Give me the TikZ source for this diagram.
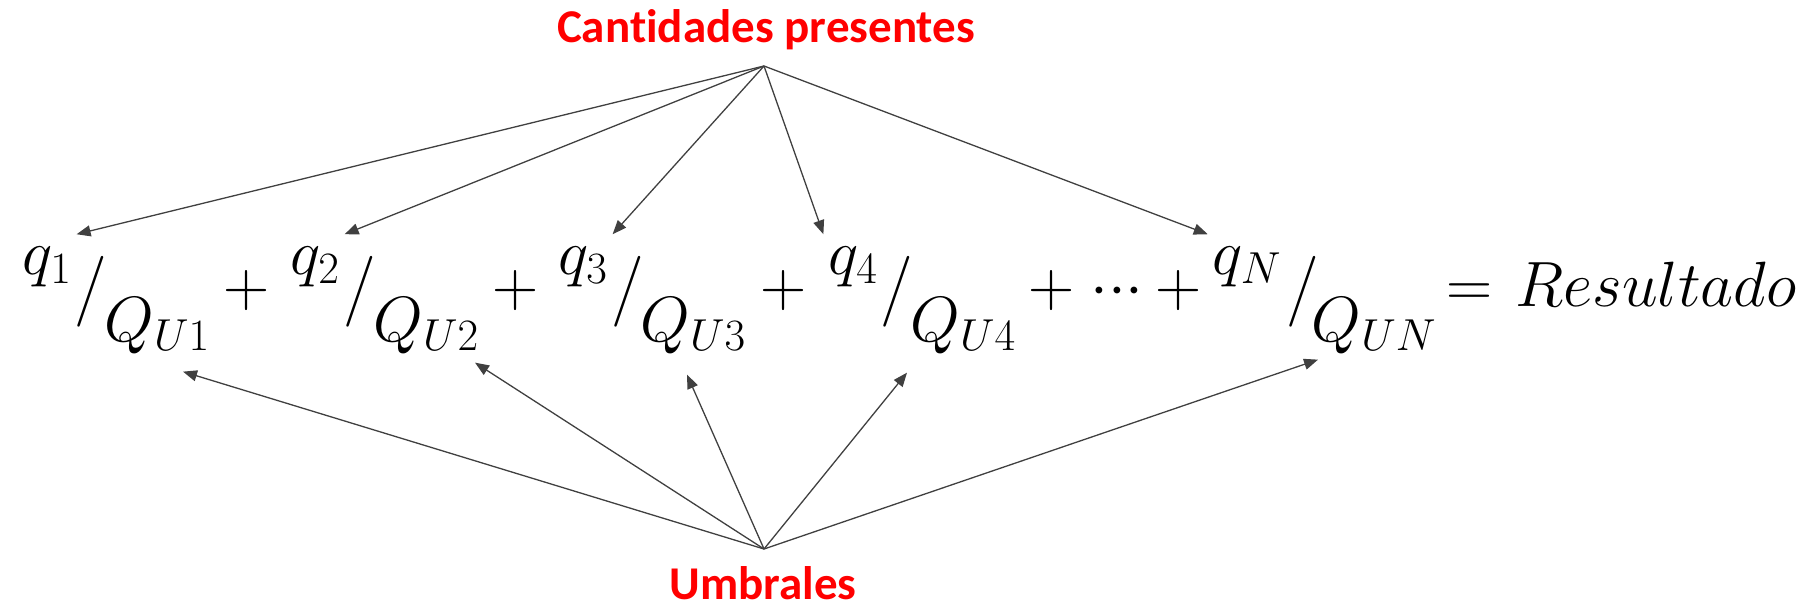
\documentclass[tikz,border=0pt]{standalone}
\usepackage{fix-cm}
\usepackage{fontspec}
\usetikzlibrary{arrows.meta}
\newfontfamily\labelfont[Ligatures=NoCommon]{Carlito}
\definecolor{ink}{HTML}{404040}
\definecolor{alert}{HTML}{FF0000}

\begin{document}
\begin{tikzpicture}[
  x=1pt,y=-1pt,
  heading/.style={font=\labelfont\bfseries\fontsize{47}{52}\selectfont,
                  text=alert,anchor=base,inner sep=0pt},
  numer/.style={font=\fontsize{64}{70}\selectfont,anchor=base,
                inner xsep=5pt,inner ysep=12pt},
  denom/.style={font=\fontsize{64}{70}\selectfont,anchor=base,inner sep=0pt},
  op/.style={font=\fontsize{64}{70}\selectfont,inner sep=0pt,anchor=base},
  slash/.style={font=\fontsize{71}{76}\selectfont,inner sep=0pt},
  link/.style={-{Triangle[length=14pt,width=11pt]},draw=ink,line width=1.3pt}
]
\useasboundingbox (0,0) rectangle (1819,610);

% Red headings with the two hubs.
\node[heading] (cant) at (766,43) {Cantidades presentes};
\node[heading] (umbr) at (763,599) {Umbrales};
\coordinate (cant-hub) at (764,66);
\coordinate (umbr-hub) at (764,549);

% The sum of skewed fractions.
\node[numer] (num1) at (47,274) {$q_1$};
\node[slash] (sl1) at (91,292) {$/$};
\node[denom] (den1) at (157,341) {$Q_{U1}$};
\node[op] (plus1) at (247,306) {$+$};

\node[numer] (num2) at (315,274) {$q_2$};
\node[slash] (sl2) at (360,292) {$/$};
\node[denom] (den2) at (426,341) {$Q_{U2}$};
\node[op] (plus2) at (516,306) {$+$};

\node[numer] (num3) at (583,274) {$q_3$};
\node[slash] (sl3) at (628,292) {$/$};
\node[denom] (den3) at (693,341) {$Q_{U3}$};
\node[op] (plus3) at (784,306) {$+$};

\node[numer] (num4) at (853,274) {$q_4$};
\node[slash] (sl4) at (897,292) {$/$};
\node[denom] (den4) at (963,341) {$Q_{U4}$};
\node[op] (plus4) at (1052,306) {$+$};

\node[op] (dots) at (1117,306) {${\cdot}{\cdot}{\cdot}$};
\node[op] (plus5) at (1179,306) {$+$};

\node[numer] (numN) at (1247,274) {$q_N$};
\node[slash] (slN) at (1303,292) {$/$};
\node[denom] (denN) at (1374,341) {$Q_{UN}$};

\node[op] (equal) at (1470,306) {$=$};
\node[op] (result) at (1656,306) {$Resultado$};

% Arrows from the hubs.
\foreach \n/\a in {num1/north east,num2/north east,num3/north east,
                   num4/north west,numN/north west}
  \draw[link] (cant-hub) -- (\n.\a);
\foreach \n/\dx/\dy in {den1/26/18,den2/49/9,den3/-6/21,den4/-56/19,denN/-56/6}
  \draw[link] (umbr-hub) -- ([xshift=\dx pt,yshift=-\dy pt]\n.south);

\end{tikzpicture}
\end{document}
